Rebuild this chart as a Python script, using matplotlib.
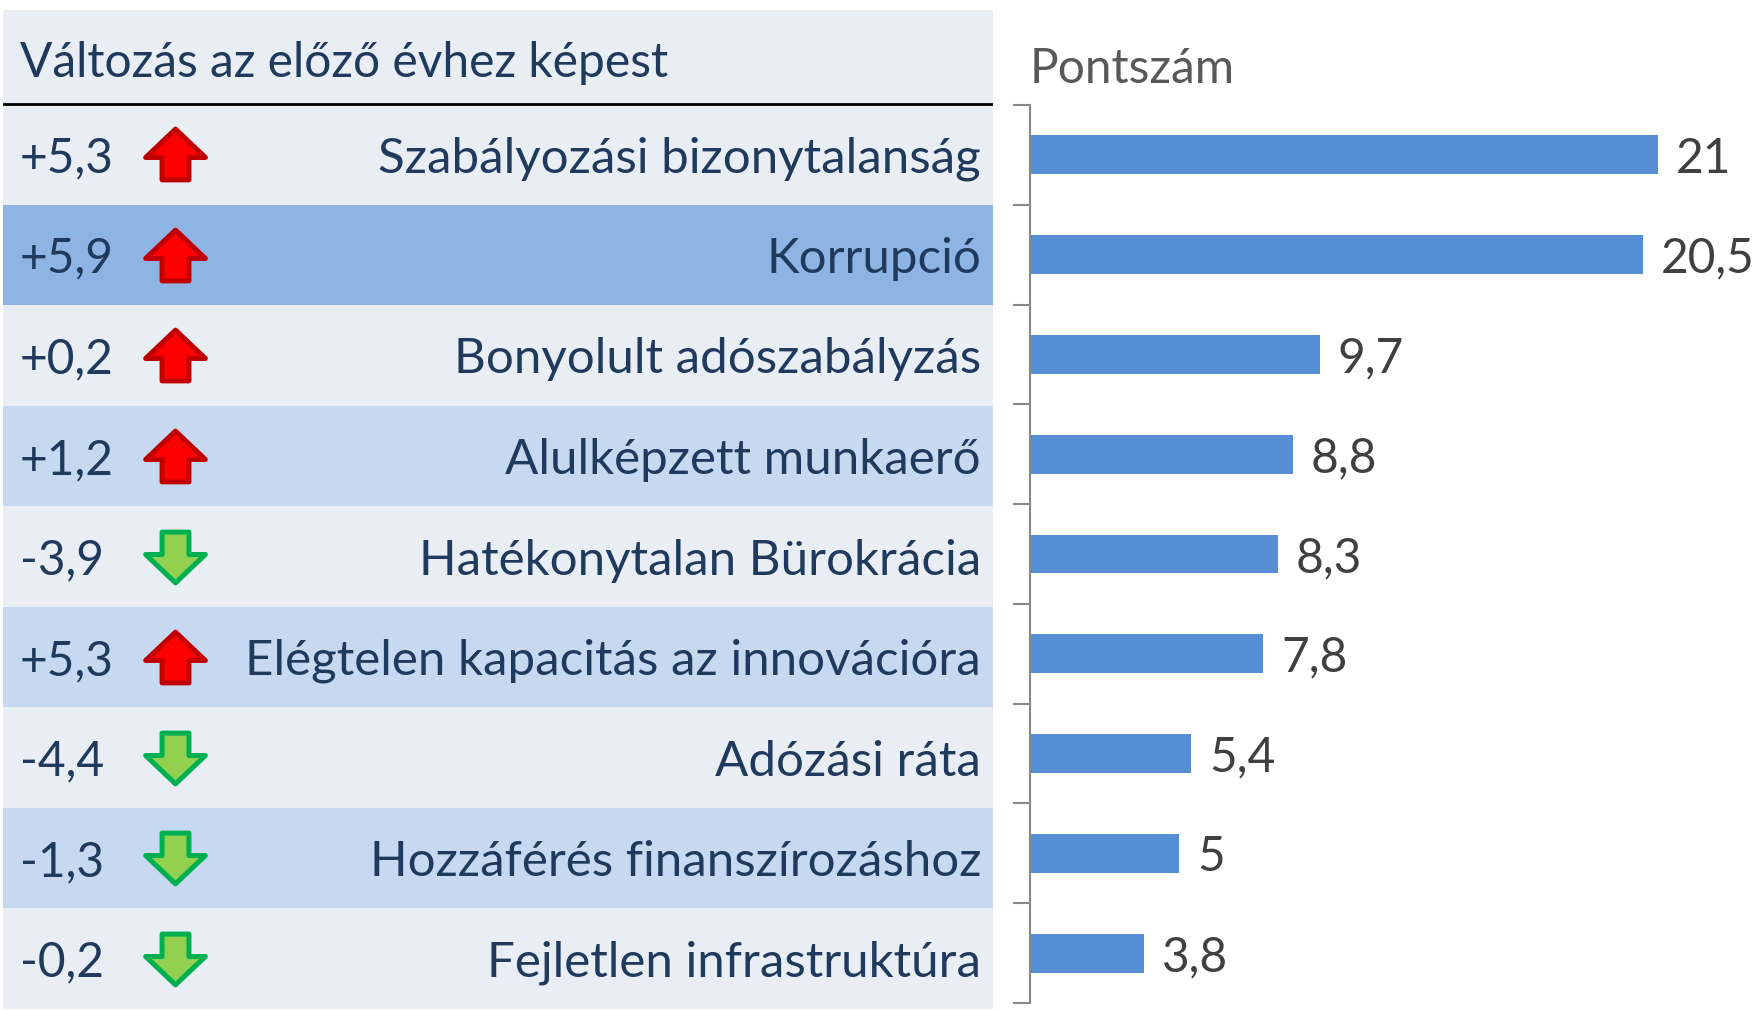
import matplotlib.pyplot as plt
from matplotlib.path import Path
from matplotlib.markers import MarkerStyle

plt.rcParams['font.family'] = ['Lato', 'DejaVu Sans']

categories = ['Szabályozási bizonytalanság', 'Korrupció', 'Bonyolult adószabályzás',
              'Alulképzett munkaerő', 'Hatékonytalan Bürokrácia',
              'Elégtelen kapacitás az innovációra', 'Adózási ráta',
              'Hozzáférés finanszírozáshoz', 'Fejletlen infrastruktúra']
scores = [21, 20.5, 9.7, 8.8, 8.3, 7.8, 5.4, 5, 3.8]
changes = [5.3, 5.9, 0.2, 1.2, -3.9, 5.3, -4.4, -1.3, -0.2]
header = 'Változás az előző évhez képest'
score_title = 'Pontszám'

TEXT = '#1f3a5c'
LIGHT = '#e9edf4'
MID = '#c6d9f1'
HILITE = '#8eb4e3'
BAR = '#558ed5'
FS = 34.5
DY = 0.04  # text sits a touch below row centre


def hu(v, sign=False):
    s = f'{v:+.1f}' if sign else (f'{v:g}')
    return s.replace('.', ',')


def arrow_marker(up=True):
    k = 1 if up else -1
    verts = [(0, 25.5), (30, -3), (13.5, -3), (13.5, -25.5), (-13.5, -25.5),
             (-13.5, -3), (-30, -3), (0, 25.5)]
    verts = [(x, k * y) for x, y in verts]
    codes = [Path.MOVETO] + [Path.LINETO] * 6 + [Path.CLOSEPOLY]
    return MarkerStyle(Path(verts, codes), joinstyle='miter')


W, H = 1758, 1010
fig = plt.figure(figsize=(W / 100, H / 100), dpi=100)

# left table
n = len(categories)
rows = list(range(n))
row_h = (1009 - 104) / n
head_h = (104 - 10) / row_h
tab = fig.add_axes([3 / W, 1 / H, 990 / W, 999 / H])
tab.set_xlim(0, 990)
tab.set_ylim(n - 0.5, -0.5 - head_h)
tab.axis('off')
row_colors = [LIGHT if i % 2 == 0 else MID for i in rows]
row_colors[1] = HILITE
tab.barh(rows, [990] * n, height=1.0, left=0, color=row_colors)
tab.axhspan(-0.5 - head_h, -0.5, color=LIGHT, lw=0)
tab.axhline(-0.5, color='black', lw=2)
tab.text(17, -0.5 - head_h / 2 + 0.06, header, ha='left', va='center', fontsize=FS, color=TEXT)

for i, (cat, ch) in enumerate(zip(categories, changes)):
    tab.text(17, i + DY, hu(ch, sign=True), ha='left', va='center', fontsize=FS, color=TEXT)
    tab.text(978, i + DY, cat, ha='right', va='center', fontsize=35.5, color=TEXT)
    if ch > 0:
        tab.plot(172, i, marker=arrow_marker(True), markersize=43, color='#ff0000',
                 markeredgecolor='#c00000', markeredgewidth=3.6)
    else:
        tab.plot(172, i, marker=arrow_marker(False), markersize=43, color='#92d050',
                 markeredgecolor='#00b050', markeredgewidth=3.6)

# right bar chart
ax = fig.add_axes([1030 / W, (H - 1003) / H, (W - 1030) / W, 898 / H])
ax.barh(rows, scores, height=0.39, color=BAR)
ax.set_ylim(n - 0.5, -0.5)
ax.set_xlim(0, 24.35)
for sp in ['top', 'right', 'bottom']:
    ax.spines[sp].set_visible(False)
ax.spines['left'].set_color('#888888')
ax.spines['left'].set_linewidth(1.5)
ax.set_xticks([])
ax.set_yticks([k - 0.5 for k in range(n + 1)])
ax.set_yticklabels([])
ax.tick_params(axis='y', length=12, width=1.5, color='#888888', direction='out')
for i, v in enumerate(scores):
    ax.text(v + 0.6, i + DY, hu(v), ha='left', va='center', fontsize=FS, color='#404040')
ax.text(0, -0.86, score_title, ha='left', va='center', fontsize=FS, color='#595959',
        clip_on=False)

fig.savefig('out.png', dpi=100)
